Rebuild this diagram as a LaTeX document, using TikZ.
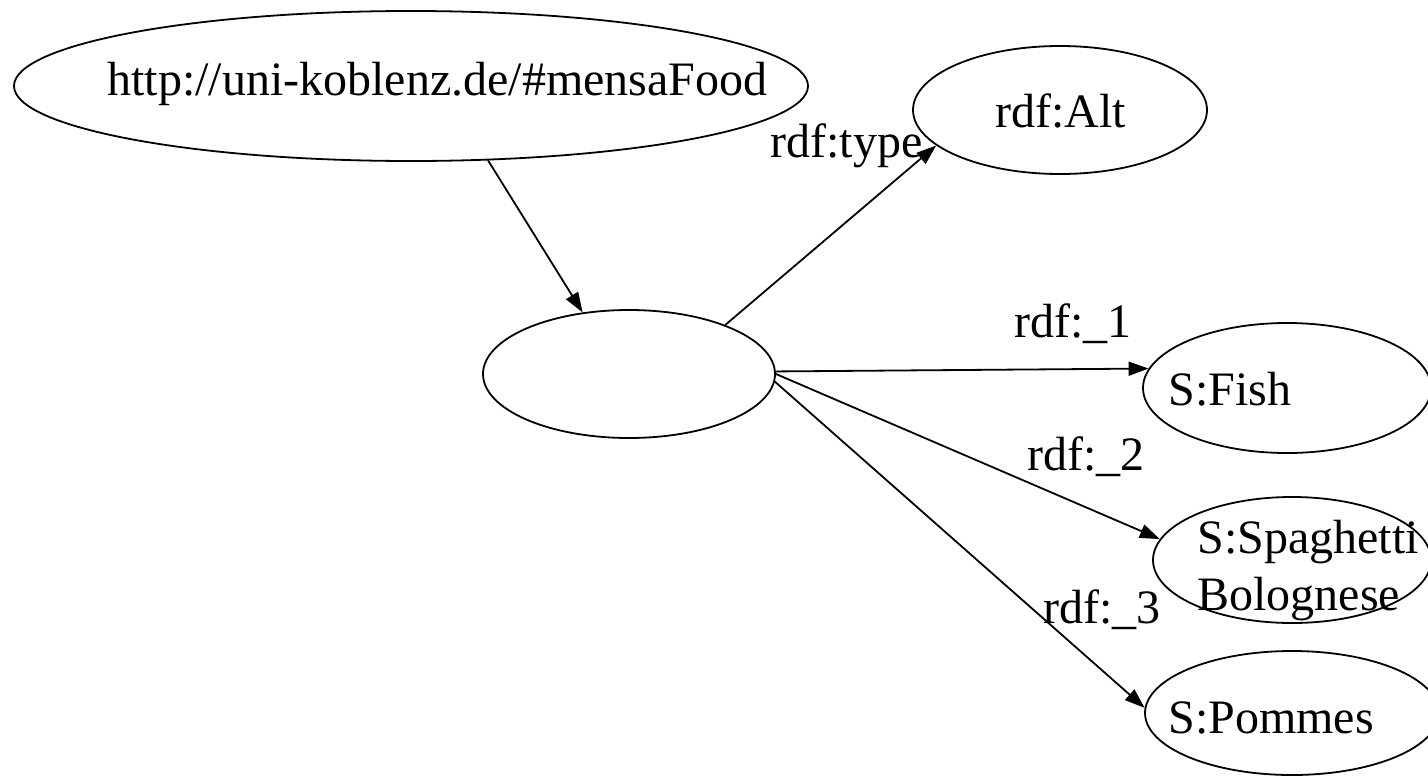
\documentclass[tikz,border=0pt]{standalone}
\usepackage{fontspec}
\setmainfont{Liberation Serif}
\usetikzlibrary{shapes.geometric,arrows.meta}
\tikzset{
  ell/.style={ellipse, draw, line width=0.9pt, inner sep=0pt},
  txt/.style={anchor=base west, inner sep=0pt, font=\fontsize{24pt}{28.5pt}\selectfont},
  conn/.style={line width=0.9pt, -{Triangle[length=10pt,width=7pt]}},
}
\begin{document}
\begin{tikzpicture}[x=0.5pt,y=-0.5pt]
\useasboundingbox (0,0) rectangle (1428,776);
\clip (0,0) rectangle (1428,776);
% ellipses (minimum width in pt = horizontal radius in px)
\node[ell, minimum width=397pt, minimum height=75pt] (top) at (411,86) {};
\node[ell, minimum width=146pt, minimum height=64pt] (blank) at (629,374) {};
\node[ell, minimum width=147pt, minimum height=64pt] (alt) at (1060,110) {};
\node[ell, minimum width=144pt, minimum height=65pt] (fish) at (1287,388) {};
\node[ell, minimum width=139pt, minimum height=63pt] (spag) at (1292,560) {};
\node[ell, minimum width=147pt, minimum height=62pt] (pom) at (1292,713) {};
% texts
\node[txt] (ttop) at (107,95) {http://uni-koblenz.de/\#mensaFood};
\node[txt] (talt) at (995,127) {rdf:Alt};
\node[txt] (tfish) at (1168,405) {S:Fish};
\node[txt] (tspag1) at (1197,553) {S:Spaghetti};
\node[txt] (tspag2) at (1197,610) {Bolognese};
\node[txt] (tpom) at (1168,733) {S:Pommes};
% edge labels
\node[txt] (ltype) at (770,157) {rdf:type};
\node[txt] (l1) at (1014,337) {rdf:\_1};
\node[txt] (l2) at (1027,470) {rdf:\_2};
\node[txt] (l3) at (1043,623) {rdf:\_3};
% connectors
\draw[conn] (top.-44.5) -- (blank.127);
\draw[conn] (blank.27) -- (alt.196);
\draw[conn] (blank.1.5) -- (fish.172.5);
\draw[conn] (blank.0) -- (spag.171);
\draw[conn] (blank.-3) -- (pom.178);
\end{tikzpicture}
\end{document}
